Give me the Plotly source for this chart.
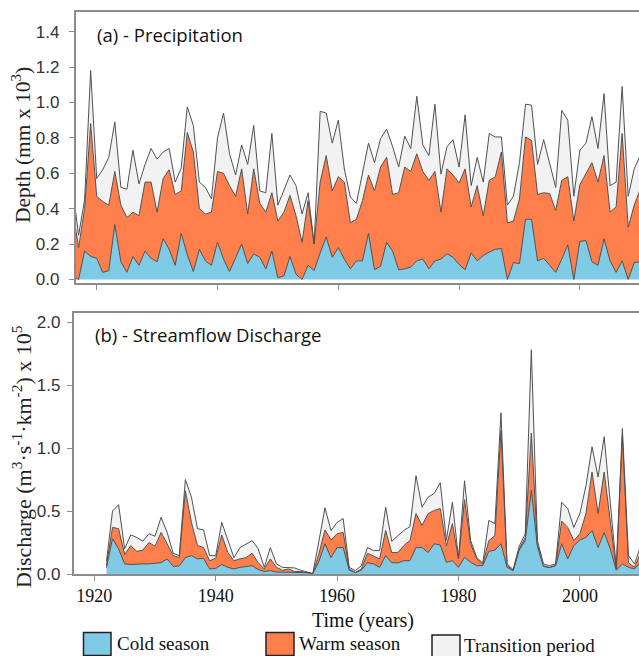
import plotly.graph_objects as go

# ---------------- data ----------------
years_precip = list(range(1916, 2011))
years_flow = list(range(1922, 2011))
x_ticks = [1920, 1940, 1960, 1980, 2000]
precip_ticks = [0.0, 0.2, 0.4, 0.6, 0.8, 1.0, 1.2, 1.4]
flow_ticks = [0.0, 0.5, 1.0, 1.5, 2.0]
season_names = ["Cold season", "Warm season", "Transition period"]

# Precipitation (mm x 10^3)
precip_cold = [
    0.02, 0.00, 0.16, 0.13,
    0.12, 0.04, 0.05, 0.31, 0.10, 0.04, 0.13, 0.08, 0.16, 0.12,
    0.10, 0.23, 0.17, 0.08, 0.26, 0.14, 0.045, 0.17, 0.105, 0.08,
    0.21, 0.115, 0.045, 0.125, 0.20, 0.09, 0.145, 0.125, 0.06, 0.16,
    0.01, 0.02, 0.13, 0.03, 0.00, 0.08, 0.05, 0.15, 0.24, 0.125,
    0.18, 0.115, 0.06, 0.105, 0.105, 0.26, 0.055, 0.075, 0.21, 0.16,
    0.055, 0.06, 0.07, 0.105, 0.115, 0.06, 0.105, 0.115, 0.145, 0.125,
    0.085, 0.055, 0.15, 0.105, 0.135, 0.155, 0.17, 0.175, 0.00, 0.095,
    0.09, 0.34, 0.34, 0.105, 0.12, 0.08, 0.04, 0.115, 0.195, 0.00,
    0.215, 0.22, 0.10, 0.08, 0.23, 0.105, 0.04, 0.105, 0.00, 0.095,
    0.10]
precip_warm = [
    0.38, 0.18, 0.24, 0.75,
    0.35, 0.40, 0.37, 0.30, 0.32, 0.31, 0.25, 0.28, 0.39, 0.43,
    0.28, 0.34, 0.45, 0.40, 0.24, 0.69, 0.675, 0.23, 0.265, 0.30,
    0.40, 0.485, 0.485, 0.345, 0.425, 0.28, 0.48, 0.305, 0.32, 0.33,
    0.32, 0.36, 0.345, 0.33, 0.21, 0.365, 0.15, 0.40, 0.46, 0.375,
    0.40, 0.435, 0.26, 0.235, 0.34, 0.33, 0.445, 0.56, 0.48, 0.32,
    0.435, 0.575, 0.54, 0.605, 0.495, 0.50, 0.505, 0.265, 0.48, 0.465,
    0.46, 0.57, 0.26, 0.425, 0.225, 0.405, 0.41, 0.545, 0.32, 0.235,
    0.365, 0.465, 0.445, 0.375, 0.37, 0.405, 0.35, 0.445, 0.385, 0.33,
    0.32, 0.38, 0.56, 0.47, 0.47, 0.275, 0.37, 0.72, 0.295, 0.325,
    0.41]
precip_trans = [
    0.12, 0.07, 0.05, 0.30,
    0.10, 0.18, 0.27, 0.28, 0.10, 0.16, 0.35, 0.18, 0.10, 0.19,
    0.30, 0.15, 0.12, 0.07, 0.13, 0.145, 0.15, 0.15, 0.15, 0.075,
    0.19, 0.34, 0.18, 0.12, 0.135, 0.28, 0.245, 0.07, 0.11, 0.335,
    0.09, 0.12, 0.115, 0.17, 0.16, 0.045, 0.00, 0.40, 0.24, 0.27,
    0.32, 0.075, 0.145, 0.09, 0.165, 0.18, 0.16, 0.16, 0.16, 0.27,
    0.145, 0.175, 0.13, 0.325, 0.15, 0.14, 0.38, 0.215, 0.125, 0.20,
    0.09, 0.305, 0.12, 0.16, 0.19, 0.265, 0.225, 0.085, 0.10, 0.14,
    0.205, 0.185, 0.20, 0.17, 0.30, 0.175, 0.13, 0.395, 0.32, 0.14,
    0.195, 0.17, 0.26, 0.19, 0.35, 0.15, 0.14, 0.265, 0.175, 0.205,
    0.19]

# Streamflow discharge (m3 s-1 km-2 x 10^5)
flow_cold = [
    0.05, 0.28, 0.20, 0.08, 0.075, 0.08, 0.08, 0.08,
    0.085, 0.09, 0.12, 0.06, 0.065, 0.13, 0.146, 0.12, 0.125, 0.04,
    0.045, 0.075, 0.053, 0.04, 0.053, 0.06, 0.066, 0.035, 0.02, 0.027,
    0.015, 0.015, 0.013, 0.015, 0.013, 0.01, 0.002, 0.10, 0.24, 0.13,
    0.21, 0.21, 0.03, 0.01, 0.03, 0.09, 0.08, 0.053, 0.146, 0.09,
    0.088, 0.106, 0.106, 0.21, 0.21, 0.17, 0.24, 0.23, 0.093, 0.106,
    0.053, 0.133, 0.093, 0.066, 0.066, 0.18, 0.19, 0.24, 0.053, 0.025,
    0.19, 0.265, 0.664, 0.22, 0.06, 0.05, 0.066, 0.24, 0.12, 0.225,
    0.27, 0.29, 0.345, 0.21, 0.33, 0.20, 0.03, 0.08, 0.053, 0.04,
    0.09]
flow_warm = [
    0.02, 0.09, 0.16, 0.075, 0.15, 0.10, 0.11, 0.17,
    0.135, 0.24, 0.12, 0.086, 0.065, 0.53, 0.264, 0.105, 0.085, 0.065,
    0.08, 0.235, 0.117, 0.065, 0.067, 0.07, 0.099, 0.055, 0.02, 0.093,
    0.038, 0.015, 0.027, 0.005, 0.007, 0.003, 0.001, 0.06, 0.11, 0.14,
    0.11, 0.12, 0.01, 0.003, 0.01, 0.075, 0.06, 0.067, 0.20, 0.08,
    0.082, 0.12, 0.16, 0.27, 0.175, 0.31, 0.265, 0.29, 0.13, 0.294,
    0.067, 0.457, 0.147, 0.054, 0.014, 0.085, 0.115, 0.90, 0.013, 0.005,
    0.01, 0.025, 0.456, 0.015, 0.006, 0.003, 0.004, 0.18, 0.25, 0.04,
    0.05, 0.19, 0.465, 0.27, 0.48, 0.22, 0.01, 1.02, 0.037, 0.013,
    0.08]
flow_trans = [
    0.03, 0.13, 0.19, 0.045, 0.085, 0.11, 0.07, 0.07,
    0.08, 0.12, 0.09, 0.019, 0.016, 0.09, 0.20, 0.135, 0.14, 0.041,
    0.021, 0.10, 0.10, 0.025, 0.09, 0.11, 0.10, 0.11, 0.013, 0.09,
    0.027, 0.023, 0.008, 0.028, 0.01, 0.007, 0.001, 0.10, 0.175, 0.075,
    0.09, 0.11, 0.013, 0.014, 0.026, 0.045, 0.046, 0.066, 0.185, 0.09,
    0.135, 0.12, 0.11, 0.30, 0.145, 0.13, 0.135, 0.205, 0.045, 0.17,
    0.005, 0.15, 0.025, 0.013, 0.005, 0.16, 0.095, 0.14, 0.014, 0.005,
    0.02, 0.03, 0.66, 0.03, 0.014, 0.013, 0.01, 0.15, 0.15, 0.105,
    0.16, 0.22, 0.20, 0.29, 0.28, 0.16, 0.01, 0.055, 0.056, 0.027,
    0.05]

# ---------------- style ----------------
W, H = 639, 656
COLORS = ["#7fcbe6", "#fe7f4c", "#f2f2f2"]
EDGE = "#505050"
AXIS = "#8c8c8c"
SERIF = "Liberation Serif, Times New Roman, serif"
SANS = "Liberation Sans, Arial, sans-serif"
TITLE_SANS = "Open Sans, Noto Sans, sans-serif"


def px(x):
    return x / W


def py(y):
    return 1 - y / H


fig = go.Figure()
for name, vals, col in zip(season_names, [precip_cold, precip_warm, precip_trans], COLORS):
    fig.add_trace(go.Scatter(x=years_precip, y=vals, name=name, stackgroup="p",
                             mode="lines", line=dict(color=EDGE, width=1),
                             fillcolor=col, showlegend=False, xaxis="x", yaxis="y"))
for name, vals, col in zip(season_names, [flow_cold, flow_warm, flow_trans], COLORS):
    fig.add_trace(go.Scatter(x=years_flow, y=vals, name=name, stackgroup="d",
                             mode="lines", line=dict(color=EDGE, width=1),
                             fillcolor=col, showlegend=False, xaxis="x2", yaxis="y2"))

common_x = dict(tickvals=x_ticks, ticks="outside", ticklen=5, tickwidth=1.2,
                tickcolor=AXIS, showline=True, mirror=True, linecolor=AXIS,
                linewidth=1.5, showgrid=False, zeroline=False, automargin=False)
common_y = dict(ticks="outside", ticklen=5, tickwidth=1.2, tickcolor=AXIS,
                showline=True, mirror=False, linecolor=AXIS, linewidth=1.5,
                showgrid=False, zeroline=False, automargin=False,
                tickformat=".1f", tickfont=dict(family=SANS, size=17, color="#333"))

fig.update_layout(
    template="none",
    width=W, height=H,
    margin=dict(l=0, r=0, t=0, b=0),
    paper_bgcolor="white", plot_bgcolor="white",
    showlegend=False,
    xaxis=dict(domain=[px(75.5), 1], range=[1916.49, 2009.79], anchor="y",
               showticklabels=False, **common_x),
    yaxis=dict(domain=[py(283), py(12)], range=[-0.02, 1.511], anchor="x",
               tickvals=precip_ticks, ticklabelstandoff=6, **common_y),
    xaxis2=dict(domain=[px(73.5), 1], range=[1916.57, 2009.74], anchor="y2",
                tickfont=dict(family=SERIF, size=18, color="#111"), **common_x),
    yaxis2=dict(domain=[py(574), py(313.3)], range=[0, 2.07], anchor="x2",
                tickvals=flow_ticks, ticklabelstandoff=3, **common_y),
)

ann = []
ann.append(dict(text="(a) - Precipitation", x=px(95), y=py(35), xanchor="left",
                yanchor="middle", font=dict(family=TITLE_SANS, size=18.5, color="#111")))
ann.append(dict(text="(b) - Streamflow Discharge", x=px(93), y=py(335), xanchor="left",
                yanchor="middle", font=dict(family=TITLE_SANS, size=18.5, color="#111")))
ann.append(dict(text="Depth (mm x 10<sup>3</sup>)", x=px(21), y=py(145), textangle=-90,
                xanchor="center", yanchor="middle", font=dict(family=SERIF, size=21.5, color="#222")))
ann.append(dict(text="Discharge (m<sup>3</sup>·s<sup>-1</sup>·km<sup>-2</sup>) x 10<sup>5</sup>",
                x=px(22), y=py(457), textangle=-90, xanchor="center", yanchor="middle",
                font=dict(family=SERIF, size=22, color="#222")))
ann.append(dict(text="Time (years)", x=px(363), y=py(620), xanchor="center", yanchor="middle",
                font=dict(family=SERIF, size=20, color="#111")))

# legend (boxes + labels)
legend_items = [(83.5, 632.5, 111, 655.5, 115, 643),
                (266, 632.5, 294, 655.5, 297, 643),
                (432, 635, 460, 658, 462, 645.5)]
shapes = []
for (x0, y0, x1, y1, tx, ty), name, col in zip(legend_items, season_names, COLORS):
    shapes.append(dict(type="rect", xref="paper", yref="paper", x0=px(x0), x1=px(x1),
                       y0=py(y1), y1=py(y0), fillcolor=col, line=dict(color="#222", width=1.5)))
    ann.append(dict(text=name, x=px(tx), y=py(ty), xanchor="left", yanchor="middle",
                    font=dict(family=SERIF, size=19, color="#111")))

for a in ann:
    a.update(xref="paper", yref="paper", showarrow=False)
fig.update_layout(annotations=ann, shapes=shapes)

fig.write_html("out.html")
